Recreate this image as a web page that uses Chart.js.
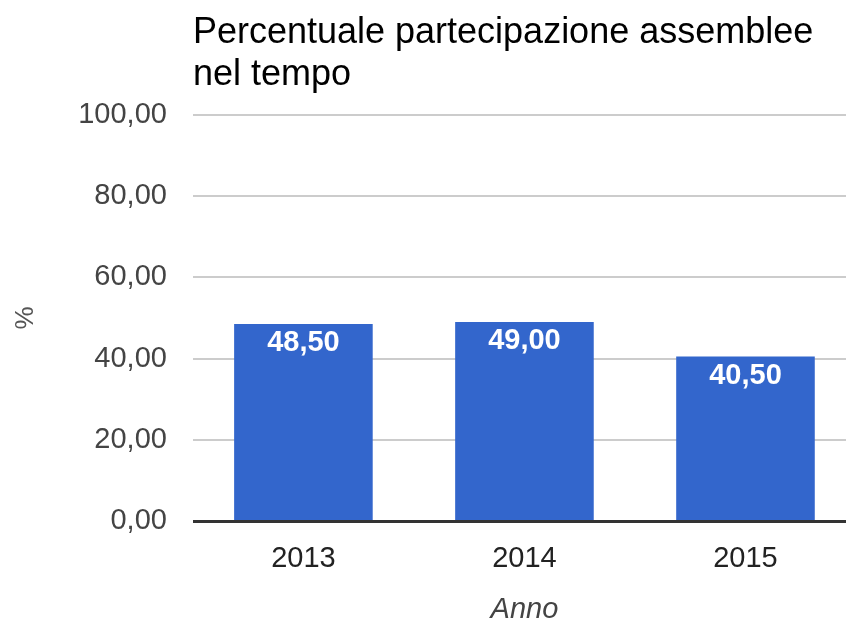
<!DOCTYPE html>
<html>
<head>
<meta charset="utf-8">
<script src="https://cdn.jsdelivr.net/npm/chart.js@4"></script>
<style>
  html, body { margin: 0; padding: 0; background: #fff; overflow: hidden; }
  #wrap { width: 846px; height: 627px; overflow: hidden; }
</style>
</head>
<body>
<div id="wrap"><canvas id="myChart" width="856" height="627"></canvas></div>
<script>
const anni = ['2013', '2014', '2015'];
const partecipazione = [48.5, 49.0, 40.5];
const yTicks = [0, 20, 40, 60, 80, 100];

const FONT = '"Liberation Sans", Arial, sans-serif';
const fmt = v => v.toFixed(2).replace('.', ',');

// etichette dentro le barre
const barLabels = {
    id: 'barLabels',
    afterDatasetsDraw(chart) {
        const c = chart.ctx;
        const meta = chart.getDatasetMeta(0);
        c.save();
        c.fillStyle = '#ffffff';
        c.font = 'bold 29px ' + FONT;
        c.textAlign = 'center';
        c.textBaseline = 'middle';
        meta.data.forEach((bar, i) => {
            c.fillText(fmt(partecipazione[i]), bar.x, bar.y + 19);
        });
        c.restore();
    }
};

const ctx = document.getElementById('myChart').getContext('2d');

let chart = new Chart(ctx, {
    type: 'bar',
    data: {
        labels: anni,
        datasets: [{
            label: 'Partecipazione',
            data: partecipazione,
            backgroundColor: '#3366cc',
            categoryPercentage: 1,
            barPercentage: 0.627
        }]
    },
    options: {
        responsive: false,
        animation: false,
        layout: { padding: { top: 12, right: 0, left: 0, bottom: 0 } },
        plugins: {
            legend: { display: false },
            tooltip: { enabled: false },
            title: {
                display: true,
                fullSize: false,
                align: 'start',
                text: ['Percentuale partecipazione assemblee', 'nel tempo'],
                color: '#000',
                font: { family: FONT, size: 36, weight: 'normal', lineHeight: 1.16 },
                padding: { top: 0, bottom: 19 }
            }
        },
        scales: {
            x: {
                grid: { display: false },
                border: { display: false },
                ticks: {
                    color: '#222',
                    padding: 12,
                    font: { family: FONT, size: 29 }
                },
                title: {
                    display: true,
                    text: 'Anno',
                    color: '#444',
                    padding: { top: 4, bottom: 0 },
                    font: { family: FONT, size: 29, style: 'italic' }
                }
            },
            y: {
                min: 0,
                max: 100,
                afterBuildTicks: axis => { axis.ticks = yTicks.map(v => ({ value: v })); },
                grid: {
                    drawTicks: false,
                    color: c => c.tick.value === 0 ? '#333' : '#cccccc',
                    lineWidth: c => c.tick.value === 0 ? 3 : 2
                },
                border: { display: false },
                ticks: {
                    color: '#444',
                    padding: 26,
                    callback: v => fmt(v),
                    font: { family: FONT, size: 29 }
                },
                title: {
                    display: true,
                    text: '%',
                    color: '#555',
                    padding: { top: 10, bottom: 11 },
                    font: { family: FONT, size: 26 }
                }
            }
        }
    },
    plugins: [barLabels]
});
</script>
</body>
</html>
